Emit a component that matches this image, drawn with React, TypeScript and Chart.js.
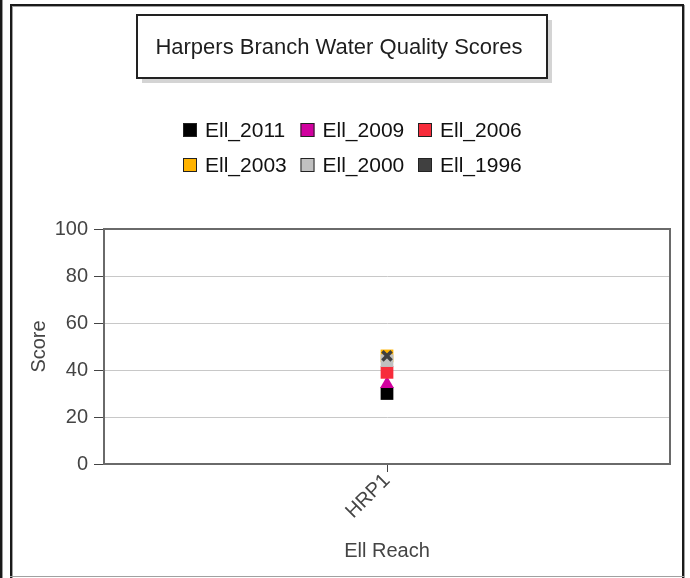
import React, { useEffect, useRef } from "react";
import { Chart, registerables } from "chart.js";

Chart.register(...registerables);

const chartTitle = "Harpers Branch Water Quality Scores";
const categories = ["HRP1"];
const seriesLabels = ["Ell_2011", "Ell_2009", "Ell_2006", "Ell_2003", "Ell_2000", "Ell_1996"];
const values2011 = [30];
const values2009 = [34];
const values2006 = [39];
const values2003 = [46];
const values2000 = [44];
const values1996 = [46];
const seriesValues = [values2011, values2009, values2006, values2003, values2000, values1996];
const seriesColors = ["#000000", "#d1009f", "#f72c3b", "#ffb300", "#c0c0c0", "#404040"];
const seriesShapes = ["rect", "triangle", "rect", "rect", "rect", "crossRot"];
const yMin = 0;
const yMax = 100;
const yStep = 20;
const xTitle = "Ell Reach";
const yTitle = "Score";

const FONT = "'Liberation Sans', Arial, sans-serif";

const decorPlugin = {
  id: "decor",
  beforeDraw(chart: any) {
    const { ctx, width, height } = chart;
    ctx.save();
    ctx.fillStyle = "#ffffff";
    ctx.fillRect(0, 0, width, height);
    // outer frames
    ctx.fillStyle = "#1a1a1a";
    ctx.fillRect(0, 0, 2, height);
    ctx.fillStyle = "#999";
    ctx.fillRect(2, 0, 1, height);
    ctx.strokeStyle = "#1a1a1a";
    ctx.lineWidth = 2;
    ctx.beginPath();
    ctx.moveTo(11, height);
    ctx.lineTo(11, 5);
    ctx.lineTo(683, 5);
    ctx.lineTo(683, height);
    ctx.stroke();
    ctx.fillStyle = "#a0a0a0";
    ctx.fillRect(12, 6, 1, height - 6);
    ctx.fillRect(12, 6, 670, 1);
    ctx.fillRect(684, 5, 1, height - 5);
    ctx.fillRect(10, height - 2, 675, 1);
    // title box
    const bx = 137, by = 15, bw = 410, bh = 63;
    ctx.fillStyle = "#d4d4d4";
    ctx.fillRect(bx + 5, by + 5, bw, bh);
    ctx.fillStyle = "#ffffff";
    ctx.fillRect(bx, by, bw, bh);
    ctx.strokeStyle = "#222";
    ctx.lineWidth = 2;
    ctx.strokeRect(bx, by, bw, bh);
    ctx.fillStyle = "#1e1e1e";
    ctx.font = `22px ${FONT}`;
    ctx.textAlign = "center";
    ctx.textBaseline = "middle";
    ctx.fillText(chartTitle, bx + bw / 2 - 3, by + bh / 2 + 1);
    // legend
    const ds = chart.data.datasets;
    const colW = 117.5;
    const startX = 183;
    ctx.font = `21px ${FONT}`;
    ctx.textAlign = "left";
    for (let i = 0; i < ds.length; i++) {
      const row = Math.floor(i / 3);
      const col = i % 3;
      const x = startX + col * colW;
      const y = 130 + row * 35;
      ctx.fillStyle = ds[i].legendColor;
      ctx.fillRect(x, y - 7, 14, 14);
      ctx.strokeStyle = "#222";
      ctx.lineWidth = 1;
      ctx.strokeRect(x + 0.5, y - 6.5, 13, 13);
      ctx.fillStyle = "#111";
      ctx.fillText(ds[i].label, x + 22, y + 1);
    }
    ctx.restore();
  },
  afterDatasetsDraw(chart: any) {
    const { ctx, chartArea } = chart;
    ctx.save();
    ctx.strokeStyle = "#6a6a6a";
    ctx.lineWidth = 2;
    ctx.strokeRect(chartArea.left, chartArea.top, chartArea.right - chartArea.left, chartArea.bottom - chartArea.top);
    ctx.restore();
  },
};

export default function App() {
  const ref = useRef<HTMLCanvasElement | null>(null);
  useEffect(() => {
    if (!ref.current) return;
    const datasets = seriesLabels.map((label, i) => ({
      label,
      data: seriesValues[i],
      legendColor: seriesColors[i],
      backgroundColor: seriesColors[i],
      borderColor: seriesColors[i],
      pointStyle: seriesShapes[i],
      pointRadius: seriesShapes[i] === "crossRot" ? 6.5 : seriesShapes[i] === "triangle" ? 8 : 9,
      pointBorderWidth: seriesShapes[i] === "crossRot" ? 3.5 : 0,
      pointHoverRadius: 8,
      showLine: false,
      order: seriesLabels.length - 1 - i,
    }));
    const chart = new Chart(ref.current, {
      type: "line",
      data: { labels: categories, datasets: datasets as any },
      plugins: [decorPlugin],
      options: {
        animation: false,
        responsive: false,
        devicePixelRatio: 1,
        layout: { padding: { left: 20, right: 20, top: 229, bottom: 2 } },
        plugins: { legend: { display: false }, title: { display: false }, tooltip: { enabled: false } },
        scales: {
          x: {
            type: "category",
            offset: true,
            grid: { drawOnChartArea: false, drawTicks: true, tickLength: 8, color: "#444", lineWidth: 1 },
            border: { display: true, color: "#555", width: 2 },
            ticks: {
              color: "#444",
              font: { family: FONT, size: 20 },
              minRotation: 45,
              maxRotation: 45,
              padding: -3,
            },
            title: {
              display: true,
              text: xTitle,
              color: "#444",
              font: { family: FONT, size: 20 },
              padding: { top: 0, bottom: 13 },
            },
            afterFit(scale: any) {
              scale.height = 112;
            },
          },
          y: {
            min: yMin,
            max: yMax,
            ticks: {
              stepSize: yStep,
              color: "#444",
              font: { family: FONT, size: 20 },
              padding: 6,
            },
            grid: {
              color: "#c8c8c8",
              lineWidth: 1,
              tickColor: "#444",
              tickLength: 10,
            },
            border: { display: true, color: "#555", width: 2 },
            title: {
              display: true,
              text: yTitle,
              color: "#444",
              font: { family: FONT, size: 20 },
              padding: { top: 7, bottom: 0 },
            },
            afterFit(scale: any) {
              scale.width = 84;
            },
          },
        },
      } as any,
    });
    return () => chart.destroy();
  }, []);
  return (
    <div style={{ position: "fixed", left: 0, top: 0, width: 690, height: 578 }}>
      <canvas ref={ref} width={690} height={578} style={{ display: "block", width: 690, height: 578 }} />
    </div>
  );
}
